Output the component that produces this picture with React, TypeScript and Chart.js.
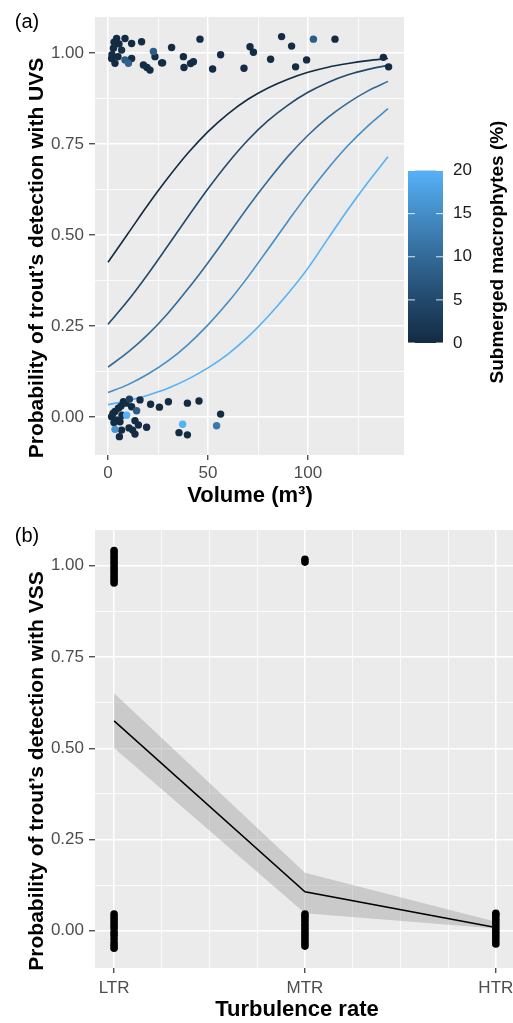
import React, { useEffect, useRef } from 'react';
import { Chart, registerables } from 'chart.js';

Chart.register(...registerables);

const FONT = '"Liberation Sans", Arial, Helvetica, sans-serif';

// ---------- Panel (a) data ----------
const volumeGrid = [0, 10, 20, 30, 40, 50, 60, 70, 80, 90, 100, 110, 120, 130, 140];
const curveMacro = [0, 5, 10, 15, 20];
const curveM0 = [0.425, 0.504, 0.583, 0.657, 0.725, 0.784, 0.833, 0.873, 0.904, 0.928, 0.947, 0.961, 0.971, 0.979, 0.985];
const curveM5 = [0.255, 0.32, 0.393, 0.471, 0.55, 0.627, 0.698, 0.761, 0.814, 0.857, 0.892, 0.919, 0.94, 0.955, 0.966];
const curveM10 = [0.137, 0.178, 0.227, 0.285, 0.352, 0.424, 0.5, 0.577, 0.649, 0.716, 0.774, 0.823, 0.863, 0.896, 0.922];
const curveM15 = [0.067, 0.089, 0.118, 0.154, 0.199, 0.253, 0.315, 0.385, 0.461, 0.538, 0.613, 0.683, 0.746, 0.8, 0.847];
const curveM20 = [0.034, 0.045, 0.06, 0.079, 0.104, 0.135, 0.173, 0.22, 0.276, 0.339, 0.409, 0.49, 0.57, 0.645, 0.715];

const topVolume = [4.3, 8.5, 11.8, 16.8, 2.7, 6.8, 1.8, 3.5, 2.0, 5.0, 11.8, 17.7, 19.5, 21.0, 23.5, 26.8, 27.3, 31.8, 37.7, 38.0, 41.3, 42.7, 46.0, 52.3, 56.3, 68.0, 71.0, 72.7, 81.3, 86.8, 91.8, 93.8, 99.3, 113.5, 137.7, 140.3, 5.5, 3.0, 8.5, 10.2, 22.7, 102.7];
const topDetect = [1.04, 1.04, 1.026, 1.031, 1.013, 1.008, 0.985, 0.972, 0.995, 0.99, 0.985, 0.967, 0.96, 0.953, 0.99, 0.973, 0.973, 1.015, 0.99, 0.96, 0.971, 0.976, 1.038, 0.956, 0.995, 0.958, 1.017, 1.002, 0.983, 1.045, 1.019, 0.962, 0.981, 1.038, 0.988, 0.962, 1.025, 1.03, 0.981, 0.972, 1.004, 1.038];
const topMacro = [0, 0, 0, 0, 0, 1, 0, 0, 0, 0, 0, 0, 0, 0, 0, 0, 0, 0, 0, 0, 0, 0, 0, 0, 0, 0, 0, 0, 0, 0, 0, 0, 0, 0, 0, 0, 0, 0, 8, 9, 8, 8];

const bottomVolume = [1.8, 3.5, 5.2, 7.7, 4.3, 6.0, 11.8, 13.5, 16.0, 15.2, 19.3, 12.3, 13.5, 6.8, 5.7, 21.3, 25.7, 30.2, 39.7, 45.5, 35.5, 39.7, 56.3, 2.5, 7.0, 6.5, 9.0, 3.0, 10.5, 10.7, 14.3, 54.3, 3.5, 9.3, 37.3];
const bottomDetect = [0.001, 0.015, 0.024, 0.042, -0.008, -0.013, 0.028, -0.01, 0.047, -0.022, -0.028, -0.036, -0.047, -0.036, -0.054, 0.035, 0.027, 0.042, 0.038, 0.044, -0.043, -0.049, 0.008, 0.01, 0.005, 0.03, 0.038, -0.015, -0.03, 0.049, 0.017, -0.024, -0.034, 0.005, -0.02];
const bottomMacro = [0, 0, 0, 0, 0, 0, 0, 0, 0, 0, 0, 0, 0, 0, 0, 0, 0, 0, 0, 0, 0, 0, 0, 0, 0, 0, 0, 0, 0, 3, 8, 12, 16, 20, 20];

const volumeTicks = [0, 25, 50, 75, 100, 125];
const volumeLabelTicks = [0, 50, 100];
const probTicks = [0, 0.125, 0.25, 0.375, 0.5, 0.625, 0.75, 0.875, 1];
const probLabelTicks = [0, 0.25, 0.5, 0.75, 1];
const legendTicks = [0, 5, 10, 15, 20];
const paletteStops = ['#132B43', '#22496C', '#336A98', '#448DC7', '#56B1F7'];

// ---------- Panel (b) data ----------
const turbCategories = ['LTR', 'MTR', 'HTR'];
const turbPositions = [1, 2, 3];
const turbFit = [0.575, 0.107, 0.009];
const turbUpper = [0.651, 0.159, 0.025];
const turbLower = [0.501, 0.048, 0.006];
const ltrHigh = [0.953, 0.96, 0.968, 0.975, 0.983, 0.99, 0.997, 1.005, 1.012, 1.02, 1.027, 1.035, 1.042];
const mtrHigh = [1.01, 1.018];
const ltrLow = [-0.048, -0.04, -0.032, -0.022, -0.012, -0.004, 0.006, 0.014, 0.022, 0.03, 0.038, 0.046];
const mtrLow = [-0.042, -0.035, -0.027, -0.02, -0.012, -0.005, 0.003, 0.01, 0.018, 0.026, 0.033, 0.04, 0.046];
const htrLow = [-0.036, -0.028, -0.02, -0.012, -0.004, 0.004, 0.012, 0.02, 0.028, 0.036, 0.043, 0.048];
const turbGridTicks = [1, 1.25, 1.5, 1.75, 2, 2.25, 2.5, 2.75, 3];

// ---------- helpers ----------
function hexToRgb(h: string) {
  const n = parseInt(h.slice(1), 16);
  return [(n >> 16) & 255, (n >> 8) & 255, n & 255];
}
function macroColor(m: number) {
  const t = Math.max(0, Math.min(1, m / 20)) * (paletteStops.length - 1);
  const i = Math.min(paletteStops.length - 2, Math.floor(t));
  const f = t - i;
  const a = hexToRgb(paletteStops[i]);
  const b = hexToRgb(paletteStops[i + 1]);
  const c = a.map((v, k) => Math.round(v + (b[k] - v) * f));
  return `rgb(${c[0]},${c[1]},${c[2]})`;
}
const isIn = (arr: number[], v: number) => arr.some((a) => Math.abs(a - v) < 1e-9);

function drawText(ctx: CanvasRenderingContext2D, text: string, x: number, y: number, font: string, color: string, rot = 0, align: CanvasTextAlign = 'center') {
  ctx.save();
  ctx.translate(x, y);
  ctx.rotate(rot);
  ctx.font = font;
  ctx.fillStyle = color;
  ctx.textAlign = align;
  ctx.textBaseline = 'middle';
  ctx.fillText(text, 0, 0);
  ctx.restore();
}

const panelBg = {
  id: 'panelBg',
  beforeDraw(chart: any) {
    const { ctx, chartArea: a } = chart;
    ctx.save();
    ctx.fillStyle = '#EBEBEB';
    ctx.fillRect(a.left, a.top, a.right - a.left, a.bottom - a.top);
    ctx.restore();
  },
};

function gridOpts(majors: number[]) {
  return {
    color: '#FFFFFF',
    lineWidth: (c: any) => (c.tick && isIn(majors, c.tick.value) ? 1.5 : 0.8),
    tickColor: (c: any) => (c.tick && isIn(majors, c.tick.value) ? '#333333' : 'rgba(0,0,0,0)'),
    tickLength: 5,
    tickWidth: 1.2,
    drawTicks: true,
  };
}

function probAxis(min: number, max: number) {
  return {
    type: 'linear',
    min,
    max,
    afterBuildTicks: (s: any) => {
      s.ticks = probTicks.map((v) => ({ value: v }));
    },
    afterFit: (s: any) => {
      s.width = 95;
      s.paddingTop = 0;
      s.paddingBottom = 0;
    },
    border: { display: false },
    grid: { ...gridOpts(probLabelTicks), tickLength: 6 },
    ticks: {
      autoSkip: false,
      padding: 5,
      color: '#4D4D4D',
      font: { family: FONT, size: 17 },
      callback: (v: number) => (isIn(probLabelTicks, v) ? v.toFixed(2) : ''),
    },
  };
}

function PanelA() {
  const ref = useRef<HTMLCanvasElement>(null);
  useEffect(() => {
    const curves = [curveM0, curveM5, curveM10, curveM15, curveM20];
    const pointData = [
      ...topVolume.map((v, i) => ({ x: v, y: topDetect[i], m: topMacro[i] })),
      ...bottomVolume.map((v, i) => ({ x: v, y: bottomDetect[i], m: bottomMacro[i] })),
    ];
    const legendPlugin = {
      id: 'legendA',
      afterDraw(chart: any) {
        const ctx = chart.ctx as CanvasRenderingContext2D;
        drawText(ctx, '(a)', 27, 22, `20px ${FONT}`, '#000');
        drawText(ctx, 'Probability of trout\u2019s detection with UVS', 37, 258, `bold 21px ${FONT}`, '#000', -Math.PI / 2);
        drawText(ctx, 'Volume (m\u00B3)', 250, 496, `bold 22px ${FONT}`, '#000');
        // colour bar
        const bl = 408, br = 443, bt = 170.5, bb = 343;
        const lo = legendTicks[0], hi = legendTicks[legendTicks.length - 1];
        const g = ctx.createLinearGradient(0, bb, 0, bt);
        paletteStops.forEach((c, i) => g.addColorStop(i / (paletteStops.length - 1), c));
        ctx.fillStyle = g;
        ctx.fillRect(bl, bt, br - bl, bb - bt);
        legendTicks.forEach((v) => {
          const y = bb - ((v - lo) / (hi - lo)) * (bb - bt);
          ctx.save();
          ctx.strokeStyle = 'rgba(255,255,255,0.85)';
          ctx.lineWidth = 1;
          ctx.beginPath();
          ctx.moveTo(bl, y); ctx.lineTo(bl + 7, y);
          ctx.moveTo(br - 7, y); ctx.lineTo(br, y);
          ctx.stroke();
          ctx.restore();
          drawText(ctx, String(v), 453, y, `17px ${FONT}`, '#1A1A1A', 0, 'left');
        });
        drawText(ctx, 'Submerged macrophytes (%)', 498, 252, `bold 19px ${FONT}`, '#000', -Math.PI / 2);
      },
    };
    const chart = new Chart(ref.current as HTMLCanvasElement, {
      type: 'scatter',
      data: {
        datasets: [
          {
            label: 'obs',
            data: pointData,
            pointRadius: 3.7,
            pointHoverRadius: 3.7,
            pointBorderWidth: 0,
            pointBackgroundColor: pointData.map((p) => macroColor(p.m)),
            pointBorderColor: 'rgba(0,0,0,0)',
            showLine: false,
          },
          ...curves.map((c, k) => ({
            label: `M${curveMacro[k]}`,
            data: volumeGrid.map((v, i) => ({ x: v, y: c[i] })),
            showLine: true,
            pointRadius: 0,
            borderColor: macroColor(curveMacro[k]),
            borderWidth: 1.6,
            cubicInterpolationMode: 'monotone',
            fill: false,
          })),
        ],
      } as any,
      options: {
        animation: false,
        responsive: false,
        events: [],
        layout: { autoPadding: false, padding: { left: 0, top: 17, right: 109, bottom: 0 } },
        plugins: { legend: { display: false }, tooltip: { enabled: false } },
        scales: {
          x: {
            type: 'linear',
            min: -6.5,
            max: 148,
            afterBuildTicks: (s: any) => {
              s.ticks = volumeTicks.map((v) => ({ value: v }));
            },
            afterFit: (s: any) => {
              s.height = 55;
              s.paddingLeft = 0;
              s.paddingRight = 0;
            },
            border: { display: false },
            grid: gridOpts(volumeLabelTicks),
            ticks: {
              autoSkip: false,
              maxRotation: 0,
              padding: 3,
              color: '#4D4D4D',
              font: { family: FONT, size: 17 },
              callback: (v: number) => (isIn(volumeLabelTicks, v) ? String(v) : ''),
            },
          },
          y: probAxis(-0.1044, 1.0989),
        },
      } as any,
      plugins: [panelBg, legendPlugin],
    });
    return () => chart.destroy();
  }, []);
  return <canvas ref={ref} width={513} height={510} style={{ display: 'block' }} />;
}

function PanelB() {
  const ref = useRef<HTMLCanvasElement>(null);
  useEffect(() => {
    const pts = [
      ...ltrHigh.map((y) => ({ x: turbPositions[0], y })),
      ...ltrLow.map((y) => ({ x: turbPositions[0], y })),
      ...mtrHigh.map((y) => ({ x: turbPositions[1], y })),
      ...mtrLow.map((y) => ({ x: turbPositions[1], y })),
      ...htrLow.map((y) => ({ x: turbPositions[2], y })),
    ];
    const textPlugin = {
      id: 'textB',
      afterDraw(chart: any) {
        const ctx = chart.ctx as CanvasRenderingContext2D;
        drawText(ctx, '(b)', 27, 26, `20px ${FONT}`, '#000');
        drawText(ctx, 'Probability of trout\u2019s detection with VSS', 37, 261, `bold 21px ${FONT}`, '#000', -Math.PI / 2);
        drawText(ctx, 'Turbulence rate', 297, 500, `bold 22px ${FONT}`, '#000');
      },
    };
    const chart = new Chart(ref.current as HTMLCanvasElement, {
      type: 'scatter',
      data: {
        datasets: [
          {
            label: 'obs',
            data: pts,
            pointRadius: 3.8,
            pointBorderWidth: 0,
            pointBackgroundColor: '#000',
            pointBorderColor: 'rgba(0,0,0,0)',
            showLine: false,
          },
          {
            label: 'fit',
            data: turbPositions.map((x, i) => ({ x, y: turbFit[i] })),
            showLine: true,
            pointRadius: 0,
            borderColor: '#000',
            borderWidth: 1.5,
            fill: false,
          },
          {
            label: 'upper',
            data: turbPositions.map((x, i) => ({ x, y: turbUpper[i] })),
            showLine: true,
            pointRadius: 0,
            borderWidth: 0,
            borderColor: 'rgba(0,0,0,0)',
            backgroundColor: 'rgba(153,153,153,0.4)',
            fill: '+1',
          },
          {
            label: 'lower',
            data: turbPositions.map((x, i) => ({ x, y: turbLower[i] })),
            showLine: true,
            pointRadius: 0,
            borderWidth: 0,
            borderColor: 'rgba(0,0,0,0)',
            fill: false,
          },
        ],
      } as any,
      options: {
        animation: false,
        responsive: false,
        events: [],
        layout: { autoPadding: false, padding: { left: 0, top: 20, right: 0, bottom: 0 } },
        plugins: { legend: { display: false }, tooltip: { enabled: false } },
        scales: {
          x: {
            type: 'linear',
            min: 0.9,
            max: 3.09,
            afterBuildTicks: (s: any) => {
              s.ticks = turbGridTicks.map((v) => ({ value: v }));
            },
            afterFit: (s: any) => {
              s.height = 55;
              s.paddingLeft = 0;
              s.paddingRight = 0;
            },
            border: { display: false },
            grid: gridOpts(turbPositions),
            ticks: {
              autoSkip: false,
              maxRotation: 0,
              padding: 5,
              color: '#4D4D4D',
              font: { family: FONT, size: 17 },
              callback: (v: number) => {
                const i = turbPositions.findIndex((p) => Math.abs(p - v) < 1e-9);
                return i >= 0 ? turbCategories[i] : '';
              },
            },
          },
          y: probAxis(-0.102, 1.098),
        },
      } as any,
      plugins: [panelBg, textPlugin],
    });
    return () => chart.destroy();
  }, []);
  return <canvas ref={ref} width={513} height={513} style={{ display: 'block' }} />;
}

export default function App() {
  return (
    <div style={{ position: 'absolute', left: 0, top: 0, width: 513, height: 1023, background: '#fff', overflow: 'hidden' }}>
      <PanelA />
      <PanelB />
    </div>
  );
}
